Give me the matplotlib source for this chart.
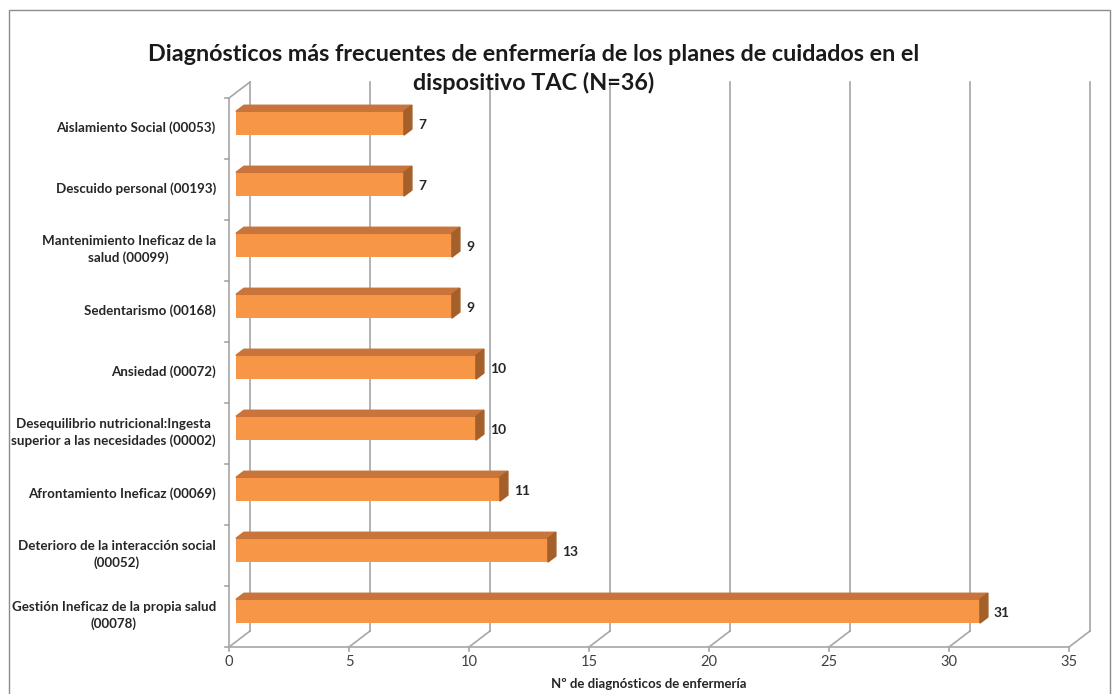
import matplotlib
matplotlib.use("Agg")
import matplotlib.pyplot as plt
from matplotlib.patches import Polygon, Rectangle

plt.rcParams['font.family'] = ['Lato', 'DejaVu Sans']

# data (top to bottom as in the chart)
categories = [
    "Aislamiento Social (00053)",
    "Descuido personal (00193)",
    "Mantenimiento Ineficaz de la\nsalud (00099)",
    "Sedentarismo (00168)",
    "Ansiedad (00072)",
    "Desequilibrio nutricional:Ingesta\nsuperior a las necesidades (00002)",
    "Afrontamiento Ineficaz (00069)",
    "Deterioro de la interacción social\n(00052)",
    "Gestión Ineficaz de la propia salud\n(00078)",
]
values = [7, 7, 9, 9, 10, 10, 11, 13, 31]
xticks = [0, 5, 10, 15, 20, 25, 30, 35]

title = ("Diagnósticos más frecuentes de enfermería de los planes de cuidados en el\n"
         "dispositivo TAC (N=36)")
xlabel = "Nº de diagnósticos de enfermería"

# 3d look parameters (data units)
dx, dy = 0.875, 0.262      # depth of the plot box
t0, t1 = 0.33, 0.71        # bar depth start / end (fraction)
bh = 0.39                  # bar height
xmax = 35
n = len(categories)

fig = plt.figure(figsize=(11.17, 6.94), dpi=100)
ax = fig.add_axes([0, 0, 1, 1])
ax.set_xlim(-229 / 24, (1117 - 229) / 24)
ax.set_ylim(-0.5 - 47 / 61, -0.5 + 647 / 61)
ax.axis("off")

grid = "#a6a6a6"
lw = 1.2
ybot = -0.5
ytop = n - 0.5

# back wall gridlines
for xt in xticks:
    ax.plot([xt + dx, xt + dx], [ybot + dy, ytop + dy], color=grid, lw=lw, zorder=1)
    # floor diagonal
    ax.plot([xt, xt + dx], [ybot, ybot + dy], color=grid, lw=lw, zorder=1)
    # tick mark
    ax.plot([xt, xt], [ybot, ybot - 0.07], color=grid, lw=lw, zorder=1)
    ax.text(xt, ybot - 0.25, str(xt), ha="center", va="center", fontsize=10.5,
            color="#404040")

# floor front line and left wall
ax.plot([0, xmax], [ybot, ybot], color=grid, lw=lw, zorder=1)
ax.plot([0, 0], [ybot, ytop], color=grid, lw=lw, zorder=1)
ax.plot([0, dx], [ytop, ytop + dy], color=grid, lw=lw, zorder=1)
for k in range(n + 1):
    ax.plot([-0.17, 0], [ybot + k, ybot + k], color=grid, lw=lw, zorder=1)

# bars
front = "#f79646"
topc = "#c8743a"
side = "#a4602b"
for i, (cat, v) in enumerate(zip(categories, values)):
    yc = (n - 1 - i) + t0 * dy
    x0 = t0 * dx
    ddx = (t1 - t0) * dx
    ddy = (t1 - t0) * dy
    ax.barh(yc, v, left=x0, height=bh, color=front, zorder=3)
    y1 = yc + bh / 2
    y0 = yc - bh / 2
    ax.add_patch(Polygon([(x0, y1), (x0 + v, y1), (x0 + v + ddx, y1 + ddy),
                          (x0 + ddx, y1 + ddy)], closed=True, color=topc, zorder=3))
    ax.add_patch(Polygon([(x0 + v, y0), (x0 + v, y1), (x0 + v + ddx, y1 + ddy),
                          (x0 + v + ddx, y0 + ddy)], closed=True, color=side, zorder=3))
    ax.text(x0 + v + ddx + 0.25, yc - 0.03, str(v), ha="left", va="center",
            fontsize=10, fontweight="bold", color="#262626", zorder=4)
    ax.text(-0.55, n - 1 - i + 0.02, cat, ha="right", va="center", fontsize=9.6,
            fontweight="bold", color="#262626", multialignment="center",
            linespacing=1.4)

ax.text(xmax / 2, ybot - 0.6, xlabel, ha="center", va="center", fontsize=9.5,
        fontweight="bold", color="#262626")

fig.text(534 / 1117, 1 - 69 / 694, title, ha="center", va="center", fontsize=16.8,
         fontweight="bold", color="#1a1a1a", linespacing=1.38)

# outer border
fig.patches.append(Rectangle((9 / 1117, -0.01), 1101 / 1117, 1 - 10 / 694 + 0.01,
                             transform=fig.transFigure, fill=False,
                             edgecolor="#8c8c8c", lw=1.0))

fig.savefig("out.png", dpi=100)
